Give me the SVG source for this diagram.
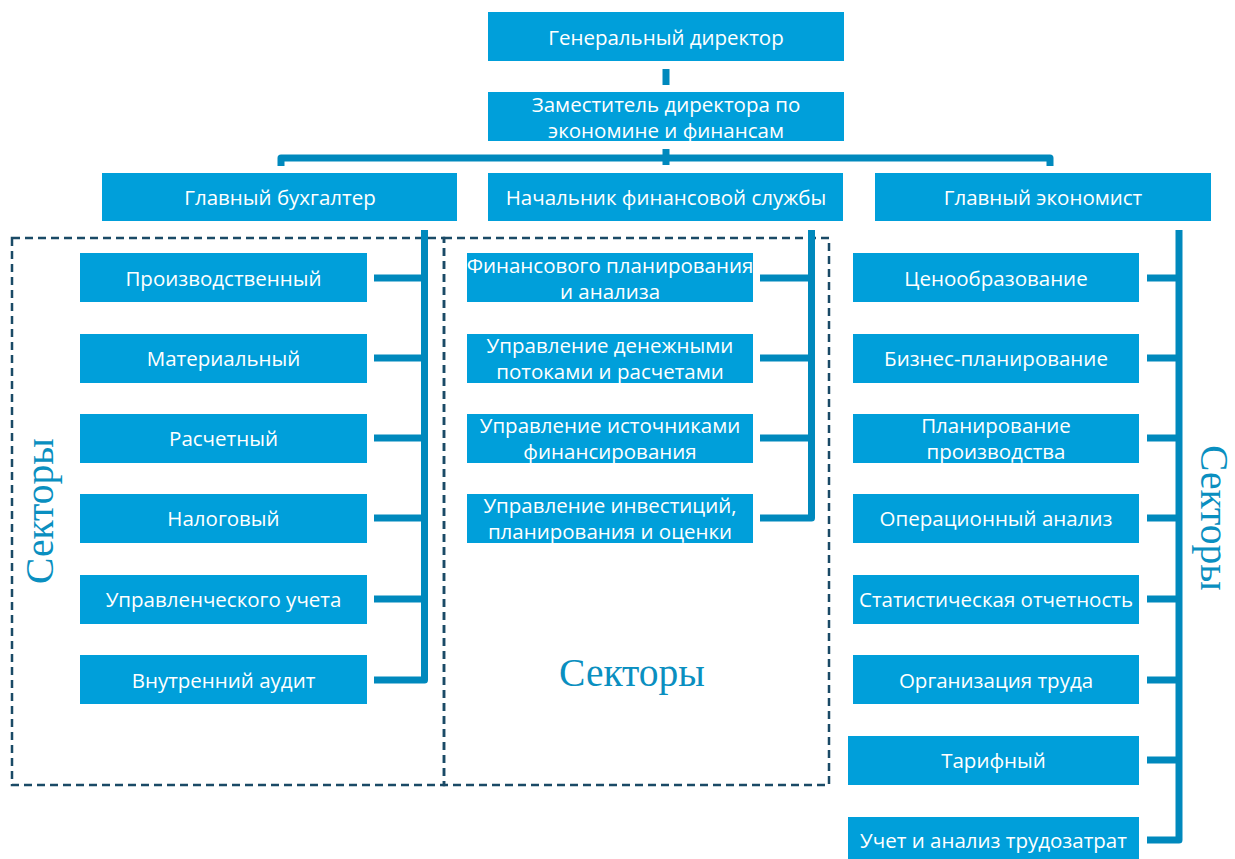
<svg xmlns="http://www.w3.org/2000/svg" width="1235" height="859" viewBox="0 0 1235 859">
<style>
.b{fill:#009FDA}
.t{font-family:"Open Sans","Noto Sans","DejaVu Sans",sans-serif;font-size:20.5px;fill:#fff;text-anchor:middle;dominant-baseline:central}
.c{fill:none;stroke:#0089BD;stroke-width:7;stroke-linejoin:round}
.d{fill:none;stroke:#1A4A66;stroke-width:2.5;stroke-dasharray:8 5}
.s{font-family:"Liberation Serif","DejaVu Serif",serif;font-size:39.5px;fill:#0A8FC0;text-anchor:middle;dominant-baseline:central}
</style>
<rect width="1235" height="859" fill="#fff"/>
<g id="dashed">
<rect class="d" x="12" y="238" width="432" height="547"/>
<rect class="d" x="444" y="238" width="385" height="547"/>
</g>
<g id="connectors">
<path class="c" d="M666 69V85"/>
<path class="c" d="M281 166V158H1050V166"/>
<path class="c" d="M666 149V165"/>
<path class="c" d="M424.5 230V680H374"/>
<path class="c" d="M374 278H424.5M374 358H424.5M374 438H424.5M374 518H424.5M374 599H424.5"/>
<path class="c" d="M811.5 230V518H760"/>
<path class="c" d="M760 278H811.5M760 358H811.5M760 438H811.5"/>
<path class="c" d="M1179 230V840H1147"/>
<path class="c" d="M1147 278H1179M1147 358H1179M1147 438H1179M1147 518H1179M1147 599H1179M1147 680H1179M1147 760H1179"/>
</g>
<g id="n-gd"><rect class="b" x="488" y="12" width="356" height="49"/><text class="t" x="666" y="37">Генеральный директор</text></g>
<g id="n-zam"><rect class="b" x="488" y="92" width="356" height="49"/><text class="t" x="666" y="104">Заместитель директора по</text><text class="t" x="666" y="130">экономине и финансам</text></g>
<g id="n-gb"><rect class="b" x="102" y="173" width="355" height="48"/><text class="t" x="280" y="197">Главный бухгалтер</text></g>
<g id="n-nfs"><rect class="b" x="488" y="173" width="355" height="48"/><text class="t" x="666" y="197">Начальник финансовой службы</text></g>
<g id="n-ge"><rect class="b" x="875" y="173" width="336" height="48"/><text class="t" x="1043" y="197">Главный экономист</text></g>
<g id="n-l1"><rect class="b" x="80" y="253" width="287" height="49"/><text class="t" x="223.5" y="278">Производственный</text></g>
<g id="n-l2"><rect class="b" x="80" y="334" width="287" height="49"/><text class="t" x="223.5" y="358">Материальный</text></g>
<g id="n-l3"><rect class="b" x="80" y="414" width="287" height="49"/><text class="t" x="223.5" y="438">Расчетный</text></g>
<g id="n-l4"><rect class="b" x="80" y="494" width="287" height="49"/><text class="t" x="223.5" y="518">Налоговый</text></g>
<g id="n-l5"><rect class="b" x="80" y="575" width="287" height="49"/><text class="t" x="223.5" y="599">Управленческого учета</text></g>
<g id="n-l6"><rect class="b" x="80" y="655" width="287" height="49"/><text class="t" x="223.5" y="680">Внутренний аудит</text></g>
<g id="n-m1"><rect class="b" x="467" y="253" width="286" height="49"/><text class="t" x="610" y="265">Финансового планирования</text><text class="t" x="610" y="291">и анализа</text></g>
<g id="n-m2"><rect class="b" x="467" y="334" width="286" height="49"/><text class="t" x="610" y="345">Управление денежными</text><text class="t" x="610" y="371">потоками и расчетами</text></g>
<g id="n-m3"><rect class="b" x="467" y="414" width="286" height="49"/><text class="t" x="610" y="425">Управление источниками</text><text class="t" x="610" y="451">финансирования</text></g>
<g id="n-m4"><rect class="b" x="467" y="494" width="286" height="49"/><text class="t" x="610" y="505">Управление инвестиций,</text><text class="t" x="610" y="531">планирования и оценки</text></g>
<g id="n-r1"><rect class="b" x="853" y="253" width="286" height="49"/><text class="t" x="996" y="278">Ценообразование</text></g>
<g id="n-r2"><rect class="b" x="853" y="334" width="286" height="49"/><text class="t" x="996" y="358">Бизнес-планирование</text></g>
<g id="n-r3"><rect class="b" x="853" y="414" width="286" height="49"/><text class="t" x="996" y="425">Планирование</text><text class="t" x="996" y="451">производства</text></g>
<g id="n-r4"><rect class="b" x="853" y="494" width="286" height="49"/><text class="t" x="996" y="518">Операционный анализ</text></g>
<g id="n-r5"><rect class="b" x="853" y="575" width="286" height="49"/><text class="t" x="996" y="599">Статистическая отчетность</text></g>
<g id="n-r6"><rect class="b" x="853" y="655" width="286" height="49"/><text class="t" x="996" y="680">Организация труда</text></g>
<g id="n-r7"><rect class="b" x="848" y="736" width="291" height="49"/><text class="t" x="993.5" y="760">Тарифный</text></g>
<g id="n-r8"><rect class="b" x="848" y="817" width="291" height="49"/><text class="t" x="993.5" y="840">Учет и анализ трудозатрат</text></g>
<g id="labels">
<text class="s" transform="translate(40 511) rotate(-90)">Секторы</text>
<text class="s" transform="translate(1214 518) rotate(90)">Секторы</text>
<text class="s" x="632" y="673">Секторы</text>
</g>
</svg>
